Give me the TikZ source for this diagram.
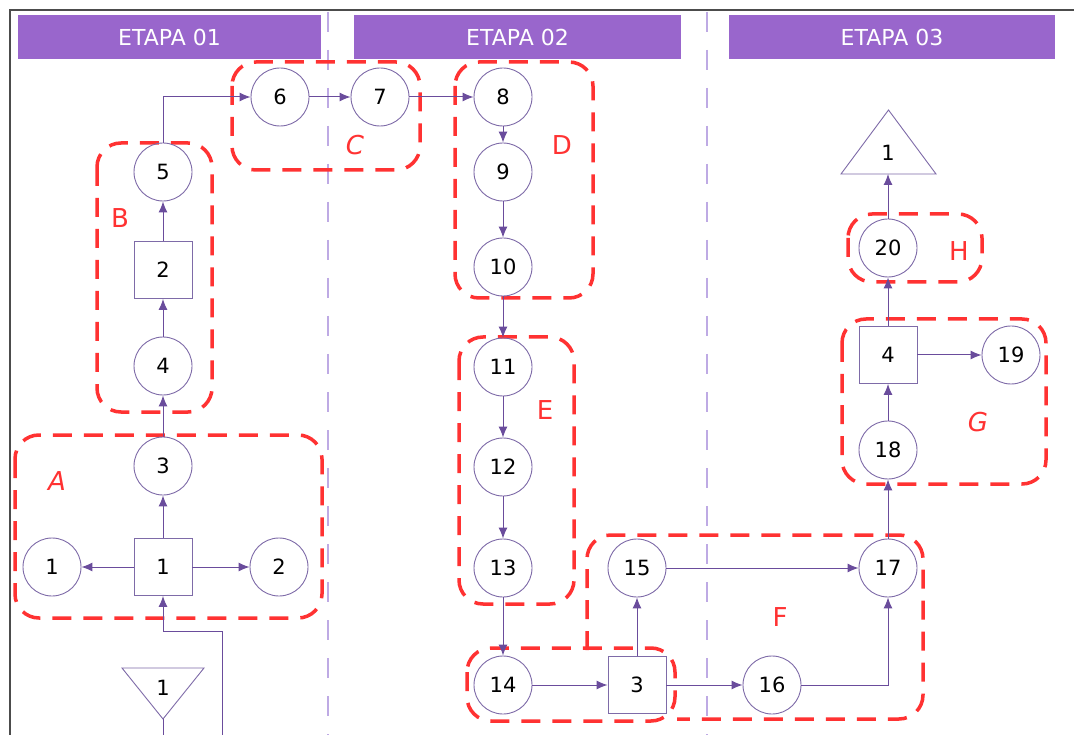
\documentclass[tikz,border=0pt]{standalone}
\usepackage{fontspec}
\setmainfont{DejaVu Sans}
\usetikzlibrary{arrows.meta}
\definecolor{hdr}{RGB}{153,102,204}
\definecolor{pline}{RGB}{106,76,156}
\definecolor{pnode}{RGB}{126,107,168}
\definecolor{pdiv}{RGB}{190,170,228}
\definecolor{grpred}{RGB}{255,50,50}
\tikzset{
  hdrbar/.style={fill=hdr, draw=none, minimum height=44pt, inner sep=0pt, text=white, font=\fontsize{22}{26}\selectfont},
  circ/.style={circle, draw=pnode, line width=0.9pt, minimum size=58pt, inner sep=0pt, font=\fontsize{21}{24}\selectfont},
  sq/.style={rectangle, draw=pnode, line width=0.9pt, minimum width=58pt, minimum height=57pt, inner sep=0pt, font=\fontsize{21}{24}\selectfont},
  txt/.style={inner sep=0pt, font=\fontsize{21}{24}\selectfont},
  arr/.style={draw=pline, line width=1pt, -{Latex[length=11pt,width=9pt]}},
  plain/.style={draw=pline, line width=1pt},
  grp/.style={draw=grpred, line width=3.5pt, dash pattern=on 19pt off 12pt, rounded corners=24pt},
  lbl/.style={text=grpred, inner sep=0pt, font=\fontsize{26}{30}\selectfont},
  ilbl/.style={lbl, font=\itshape\fontsize{26}{30}\selectfont},
  divline/.style={draw=pdiv, line width=1.5pt, dash pattern=on 20pt off 18pt},
}
\begin{document}
\begin{tikzpicture}[x=1pt,y=-1pt]
\useasboundingbox (0,0) rectangle (1074,735);
\fill[white] (0,0) rectangle (1074,735);
% frame
\draw[black!70, line width=1.3pt] (10,735) -- (10,10) -- (1074,10);
% dividers
\draw[divline] (328,12) -- (328,735);
\draw[divline] (707,12) -- (707,735);
% headers
\node[hdrbar, minimum width=303pt] (h1) at (169.5,37.5) {ETAPA 01};
\node[hdrbar, minimum width=327pt] (h2) at (517.5,37.5) {ETAPA 02};
\node[hdrbar, minimum width=326pt] (h3) at (892,37.5) {ETAPA 03};
% groups
\draw[grp] (15,435) rectangle (322,618);
\draw[grp] (97,143) rectangle (212,412);
\draw[grp] (232,62) rectangle (420,170);
\draw[grp] (455,62) rectangle (593,298);
\draw[grp] (459,337) rectangle (574,604);
\draw[grp] (467,648) rectangle (675,721);
\draw[grp] (587,650) -- (587,535) -- (923,535) -- (923,719) -- (677,719);
\draw[grp] (842,319) rectangle (1046,484);
\draw[grp] (848,214) rectangle (982,282);
% group labels
\node[ilbl] (la) at (57,481) {A};
\node[lbl] (lb) at (120,218) {B};
\node[ilbl] (lc) at (355,145) {C};
\node[lbl] (ld) at (562,145) {D};
\node[lbl] (le) at (545,410) {E};
\node[lbl] (lf) at (780,617) {F};
\node[ilbl] (lg) at (978,422) {G};
\node[lbl] (lh) at (959,251) {H};
% nodes
\node[circ] (c1) at (52,567) {1};
\node[sq]   (s1) at (163,567) {1};
\node[circ] (c2) at (279,567) {2};
\node[circ] (c3) at (163,466) {3};
\node[circ] (c4) at (163,366) {4};
\node[sq]   (s2) at (163,270) {2};
\node[circ] (c5) at (163,172) {5};
\node[circ] (c6) at (280,97) {6};
\node[circ] (c7) at (380,97) {7};
\node[circ] (c8) at (503,97) {8};
\node[circ] (c9) at (503,172) {9};
\node[circ] (c10) at (503,267) {10};
\node[circ] (c11) at (503,367) {11};
\node[circ] (c12) at (503,467) {12};
\node[circ] (c13) at (503,568) {13};
\node[circ] (c14) at (503,685) {14};
\node[sq]   (s3) at (637,685) {3};
\node[circ] (c15) at (637,568) {15};
\node[circ] (c16) at (772,685) {16};
\node[circ] (c17) at (888,568) {17};
\node[circ] (c18) at (888,450) {18};
\node[sq]   (s4) at (888,355) {4};
\node[circ] (c19) at (1011,355) {19};
\node[circ] (c20) at (888,248) {20};
% triangles
\draw[draw=pnode, line width=0.9pt] (122,668) -- (204,668) -- (163,719) -- cycle;
\node[txt] (td) at (163,688) {1};
\coordinate (tdbot) at (163,719);
\coordinate (tdend) at (163,735);
\draw[draw=pnode, line width=0.9pt] (841,174) -- (936,174) -- (888.5,110) -- cycle;
\node[txt] (tu) at (888,153) {1};
\coordinate (tubase) at (888,174);
% input line
\coordinate (in1) at (222,735);
\coordinate (bend1) at (163,631);
% connectors
\draw[arr] (s1) -- (c1);
\draw[arr] (s1) -- (c2);
\draw[arr] (s1) -- (c3);
\draw[arr] (c3) -- (c4);
\draw[arr] (c4) -- (s2);
\draw[arr] (s2) -- (c5);
\draw[arr] (c5.north) |- (c6.west);
\draw[arr] (c6) -- (c7);
\draw[arr] (c7) -- (c8);
\draw[arr] (c8) -- (c9);
\draw[arr] (c9) -- (c10);
\draw[arr] (c10) -- (c11);
\draw[arr] (c11) -- (c12);
\draw[arr] (c12) -- (c13);
\draw[arr] (c13) -- (c14);
\draw[arr] (c14) -- (s3);
\draw[arr] (s3) -- (c15);
\draw[arr] (s3) -- (c16);
\draw[arr] (c15) -- (c17);
\draw[arr] (c16.east) -| (c17.south);
\draw[arr] (c17) -- (c18);
\draw[arr] (c18) -- (s4);
\draw[arr] (s4) -- (c19);
\draw[arr] (s4) -- (c20);
\draw[arr] (c20) -- (tubase);
\draw[arr] (in1) |- (bend1) -- (s1.south);
\draw[plain] (tdbot) -- (tdend);
\end{tikzpicture}
\end{document}
